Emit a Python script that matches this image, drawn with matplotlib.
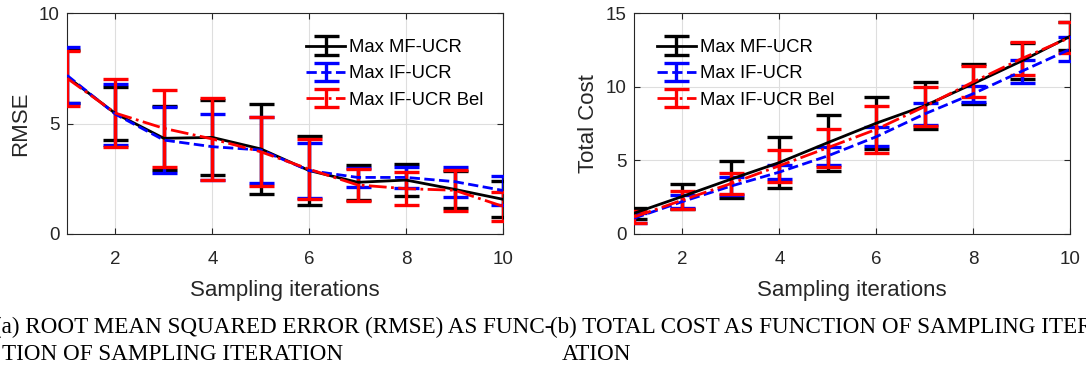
import matplotlib
matplotlib.use('Agg')
import matplotlib.pyplot as plt
import numpy as np

# sampling iterations
iterations = [1, 2, 3, 4, 5, 6, 7, 8, 9, 10]

# RMSE (left panel)
rmse_mf = [7.12, 5.45, 4.33, 4.37, 3.85, 2.87, 2.34, 2.44, 2.02, 1.57]
rmse_mf_err = [1.2, 1.2, 1.45, 1.7, 2.03, 1.58, 0.78, 0.72, 0.85, 0.82]
rmse_if = [7.18, 5.42, 4.25, 3.95, 3.8, 2.87, 2.56, 2.56, 2.37, 1.97]
rmse_if_err = [1.27, 1.38, 1.51, 1.49, 1.5, 1.26, 0.42, 0.49, 0.68, 0.65]
rmse_bel = [7.05, 5.47, 4.78, 4.3, 3.72, 2.93, 2.22, 2.05, 1.98, 1.25]
rmse_bel_err = [1.25, 1.55, 1.73, 1.87, 1.56, 1.35, 0.74, 0.74, 0.93, 0.66]

# total cost (right panel)
cost_mf = [1.41, 2.55, 3.72, 4.85, 6.2, 7.52, 8.7, 10.2, 11.74, 13.41]
cost_mf_err = [0.38, 0.85, 1.25, 1.7, 1.9, 1.75, 1.6, 1.35, 1.22, 0.95]
cost_if = [1.07, 2.2, 3.25, 4.2, 5.3, 6.6, 8.15, 9.52, 11.04, 12.54]
cost_if_err = [0.35, 0.45, 0.6, 0.5, 0.6, 0.65, 0.74, 0.55, 0.79, 0.83]
cost_bel = [1.15, 2.3, 3.42, 4.63, 5.86, 7.1, 8.65, 10.32, 11.9, 13.34]
cost_bel_err = [0.42, 0.59, 0.7, 1.07, 1.28, 1.58, 1.35, 1.05, 1.1, 1.05]

labels = ['Max MF-UCR', 'Max IF-UCR', 'Max IF-UCR Bel']
colors = ['black', 'blue', 'red']
styles = ['-', '--', '-.']

plt.rcParams['font.family'] = ['Liberation Sans', 'DejaVu Sans']
axis_col = '#262626'

W, H = 1086, 369
fig = plt.figure(figsize=(W / 100, H / 100), dpi=100)


def px_axes(x0, y0, x1, y1):
    return fig.add_axes([x0 / W, 1 - y1 / H, (x1 - x0) / W, (y1 - y0) / H])


def draw_panel(ax, series, ylim, yticks, ylabel, legend_anchor):
    for (vals, errs), c, ls, lab in zip(series, colors, styles, labels):
        ax.errorbar(iterations, vals, yerr=errs, color=c, linestyle=ls,
                    linewidth=2.0, elinewidth=2.4, capsize=9, capthick=2.4,
                    label=lab, zorder=3)
    ax.set_xlim(1, 10)
    ax.set_ylim(*ylim)
    ax.set_xticks([2, 4, 6, 8, 10])
    ax.set_yticks(yticks)
    ax.grid(True, color='#dedede', linewidth=0.8)
    ax.set_axisbelow(True)
    ax.tick_params(direction='in', top=True, right=True, length=4,
                   labelsize=13.5, colors=axis_col)
    ax.tick_params(axis='x', pad=12)
    ax.tick_params(axis='y', pad=5.5)
    for sp in ax.spines.values():
        sp.set_color(axis_col)
        sp.set_linewidth(0.8)
    ax.set_xlabel('Sampling iterations', fontsize=16, color=axis_col, labelpad=9)
    ax.set_ylabel(ylabel, fontsize=16, color=axis_col, labelpad=5)
    ax.legend(loc='upper left', bbox_to_anchor=legend_anchor, frameon=False,
              fontsize=13.3, handlelength=2.1, handletextpad=0.2,
              labelspacing=0.5, borderaxespad=0)


ax1 = px_axes(67, 13, 503, 234)
draw_panel(ax1,
           [(rmse_mf, rmse_mf_err), (rmse_if, rmse_if_err), (rmse_bel, rmse_bel_err)],
           (0, 10), [0, 5, 10], 'RMSE', (0.532, 0.915))

ax2 = px_axes(634, 13, 1070, 234)
draw_panel(ax2,
           [(cost_mf, cost_mf_err), (cost_if, cost_if_err), (cost_bel, cost_bel_err)],
           (0, 15), [0, 5, 10, 15], 'Total Cost', (0.036, 0.915))

cap_kw = dict(fontsize=16.7, family=['Liberation Serif', 'DejaVu Serif'], color='black')
fig.text(-6 / W, 1 - 327 / H, '(a) ROOT MEAN SQUARED ERROR (RMSE) AS FUNC-', va='center', **cap_kw)
fig.text(2 / W, 1 - 354 / H, 'TION OF SAMPLING ITERATION', va='center', **cap_kw)
fig.text(550 / W, 1 - 327 / H, '(b) TOTAL COST AS FUNCTION OF SAMPLING ITER-', va='center', **cap_kw)
fig.text(562 / W, 1 - 354 / H, 'ATION', va='center', **cap_kw)

fig.savefig('out.png', dpi=100)
